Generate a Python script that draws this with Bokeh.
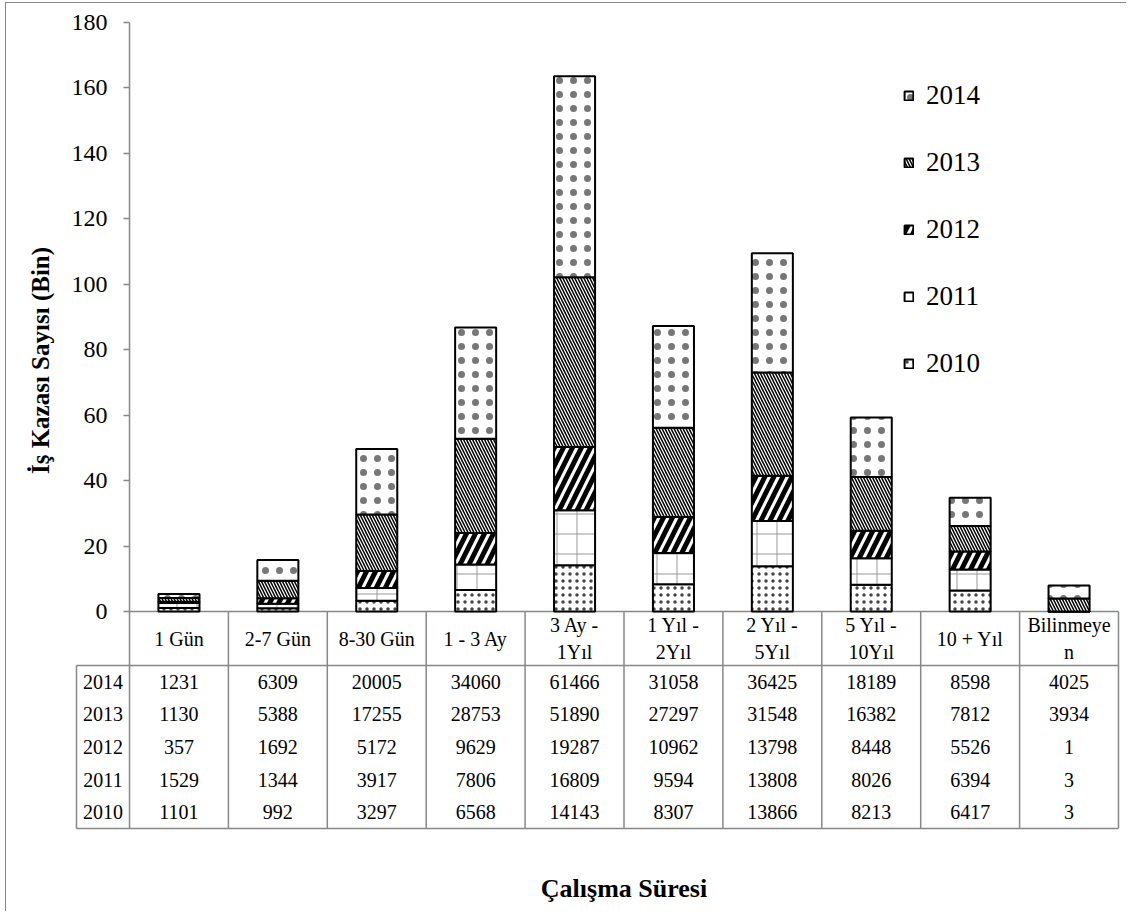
import numpy as np
from bokeh.plotting import figure
from bokeh.models import Range1d, FixedTicker, Legend, LegendItem, LinearAxis
from bokeh.layouts import column
from bokeh.embed import file_html
from bokeh.resources import INLINE
from bokeh.core.properties import value

# ---------------- data ----------------
categories = ["1 Gün", "2-7 Gün", "8-30 Gün", "1 - 3 Ay", "3 Ay -\n1Yıl",
              "1 Yıl -\n2Yıl", "2 Yıl -\n5Yıl", "5 Yıl -\n10Yıl", "10 + Yıl",
              "Bilinmeye\nn"]
years = ["2010", "2011", "2012", "2013", "2014"]
v2010 = [1101, 992, 3297, 6568, 14143, 8307, 13866, 8213, 6417, 3]
v2011 = [1529, 1344, 3917, 7806, 16809, 9594, 13808, 8026, 6394, 3]
v2012 = [357, 1692, 5172, 9629, 19287, 10962, 13798, 8448, 5526, 1]
v2013 = [1130, 5388, 17255, 28753, 51890, 27297, 31548, 16382, 7812, 3934]
v2014 = [1231, 6309, 20005, 34060, 61466, 31058, 36425, 18189, 8598, 4025]
y_ticks = [0, 20, 40, 60, 80, 100, 120, 140, 160, 180]
y_title = "İş Kazası Sayısı (Bin)"
x_title = "Çalışma Süresi"

series = {"2010": v2010, "2011": v2011, "2012": v2012, "2013": v2013, "2014": v2014}

# ---------------- styles ----------------
FONT = "Liberation Serif"
GRAY = "#888888"
styles = {
    "2010": dict(hatch_pattern="dot", hatch_scale=7, hatch_weight=2, hatch_color="#444444"),
    "2011": dict(hatch_pattern="cross", hatch_scale=20, hatch_weight=1, hatch_color="#999999"),
    "2012": dict(hatch_pattern="right_diagonal_line", hatch_scale=18, hatch_weight=5, hatch_color="black"),
    "2013": dict(hatch_pattern="left_diagonal_line", hatch_scale=6, hatch_weight=1.5, hatch_color="black"),
    "2014": dict(hatch_pattern="dot", hatch_scale=14, hatch_weight=1, hatch_color="#777777"),
}

n = len(categories)
xs = np.arange(n) + 0.5

# layout geometry (pixels -> data units)
PX = 589.0 / 180.0           # pixels per thousand
CAT = 98.9                   # pixels per category
FIG_W, FIG_H = 1120, 908
AX_PX = 123                  # frame left -> y axis
ZERO_PX = 608                # frame top -> zero line
x0 = -53.0 / CAT             # left edge of the row-label column
hdr_bot = -54.0 / PX         # header row bottom / table top
row_h = 32.6 / PX            # table row height
tbl_bot = hdr_bot - 5 * row_h

p = figure(width=FIG_W, height=FIG_H,
           x_range=Range1d(-AX_PX / CAT, (FIG_W - AX_PX) / CAT),
           y_range=Range1d(-(FIG_H - ZERO_PX) / PX, ZERO_PX / PX),
           output_backend="svg", toolbar_location=None, y_axis_location=None,
           x_axis_location=None,
           min_border_left=0, min_border_right=0, min_border_top=0, min_border_bottom=0)
p.grid.visible = False
p.outline_line_color = None

ax = LinearAxis(fixed_location=0, bounds=(tbl_bot, 180))
ax.ticker = FixedTicker(ticks=y_ticks)
ax.axis_line_color = GRAY
ax.axis_line_width = 1.5
ax.major_tick_line_color = GRAY
ax.major_tick_line_width = 1.5
ax.major_tick_out = 6
ax.major_tick_in = 0
ax.minor_tick_out = 0
ax.minor_tick_in = 0
ax.major_label_text_font = FONT
ax.major_label_text_font_size = "24px"
ax.major_label_text_color = "black"
ax.major_label_standoff = 16
p.add_layout(ax, "left")

# y title
p.text(x=[-89.0 / CAT], y=[251.0 / PX], text=[y_title], angle=np.pi / 2,
       text_align="center", text_baseline="middle", text_font=value(FONT),
       text_font_size="25px", text_font_style="bold", text_color="black")

# ---------------- table lines ----------------
bounds = [float(i) for i in range(1, n + 1)]
sx0 = [0, x0, x0, x0] + bounds
sy0 = [0, hdr_bot, tbl_bot, hdr_bot] + [0.0] * n
sx1 = [n, n, n, x0] + bounds
sy1 = [0, hdr_bot, tbl_bot, tbl_bot] + [tbl_bot] * n
p.segment(x0=sx0, y0=sy0, x1=sx1, y1=sy1, line_color=GRAY, line_width=1.5)

# ---------------- stacked bars ----------------
bottom = np.zeros(n)
rends = {}
for yr in years:
    top = bottom + np.array(series[yr]) / 1000.0
    rends[yr] = p.vbar(x=xs, bottom=bottom, top=top, width=0.415,
                       fill_color="white", line_color="black", line_width=2,
                       **styles[yr])
    bottom = top

legend = Legend(items=[LegendItem(label=yr, renderers=[rends[yr]]) for yr in reversed(years)],
                location=(897, 532), orientation="vertical",
                glyph_width=11, glyph_height=11, label_standoff=12,
                label_height=32, spacing=35, padding=0, margin=0,
                border_line_color=None, background_fill_alpha=0,
                label_text_font=FONT, label_text_font_size="27px",
                label_text_color="black")
p.add_layout(legend)

# ---------------- table texts ----------------
p.text(x=xs, y=[hdr_bot / 2] * n, text=categories, text_align="center",
       text_baseline="middle", text_font=value(FONT), text_font_size="20px",
       text_line_height=1.25, text_color="black")

for i, yr in enumerate(reversed(years)):
    yrow = hdr_bot - (i + 0.5) * row_h
    p.text(x=[x0 / 2], y=[yrow], text=[yr], text_align="center", text_baseline="middle",
           text_font=value(FONT), text_font_size="20px", text_color="black")
    p.text(x=xs, y=[yrow] * n, text=[str(v) for v in series[yr]], text_align="center",
           text_baseline="middle", text_font=value(FONT), text_font_size="20px",
           text_color="black")

# x axis title
p.text(x=[n / 2], y=[-277.0 / PX], text=[x_title], text_align="center",
       text_baseline="middle", text_font=value(FONT), text_font_size="26px",
       text_font_style="bold", text_color="black")

layout = column(p, margin=(2, 0, 0, 5),
                styles={"border-left": "1px solid #888888", "border-top": "1px solid #888888"})

open("out.html", "w").write(file_html(layout, INLINE))
